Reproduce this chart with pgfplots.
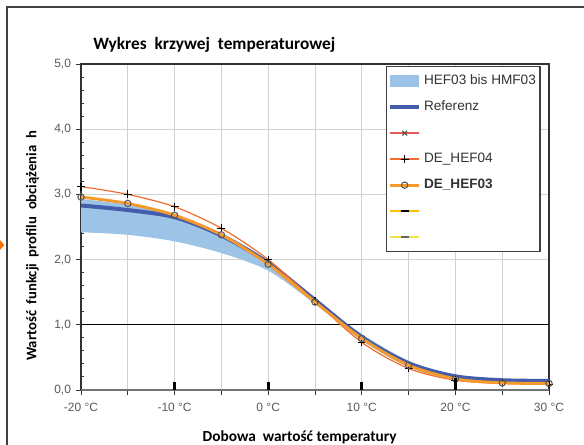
\documentclass[border=0pt]{standalone}
\usepackage{pgfplots}
\pgfplotsset{compat=1.18}
\usepgfplotslibrary{fillbetween}
\usepackage{fontspec}
\setmainfont{Liberation Sans}
\newfontfamily\calibri{Carlito}

\definecolor{bandblue}{RGB}{157,195,230}
\definecolor{refblue}{RGB}{68,92,172}
\definecolor{hefthree}{RGB}{245,155,45}
\definecolor{heffour}{RGB}{240,110,50}
\definecolor{redx}{RGB}{230,90,90}
\definecolor{yellowa}{RGB}{255,192,0}
\definecolor{yellowb}{RGB}{240,228,70}

\newcommand{\lt}[1]{\makebox[84pt][l]{#1}}

\begin{document}
\begin{tikzpicture}
% 1 px of the reference = 0.75pt; axis box lower left at origin
\begin{axis}[
    at={(0,0)}, anchor=south west,
    scale only axis,
    width=351pt, height=244.5pt,
    xmin=-20, xmax=30, ymin=0, ymax=5,
    xtick={-20,-15,...,30},
    xticklabels={-20 °C,,-10 °C,,0 °C,,10 °C,,20 °C,,30 °C},
    ytick={0,1,...,5},
    minor y tick num=4,
    tick pos=left,
    yticklabel={\pgfmathprintnumber[fixed,fixed zerofill,precision=1,use comma]{\tick}},
    /pgf/number format/assume math mode=true,
    tick align=outside,
    major tick length=4pt,
    minor tick length=2.5pt,
    minor tick style={xshift=2.5pt},
    xmajorgrids, ymajorgrids,
    grid style={black!18, line width=0.6pt},
    axis line style={black!80, line width=0.8pt},
    tick style={black!80, line width=0.7pt},
    ticklabel style={font=\fontsize{9}{10}\selectfont, text=black!65},
    xticklabel style={yshift=-2pt},
    clip mode=individual,
    legend cell align=left,
    legend style={at={(0.652,0.994)}, anchor=north west,
        draw=black!75, line width=0.8pt,
        font=\fontsize{10.2}{12}\selectfont, text=black!80,
        inner xsep=1pt, inner ysep=4pt, row sep=5.5pt,
        nodes={text height=7.5pt, text depth=2.5pt}},
    legend image code/.code={\draw[mark repeat=2,mark phase=2,#1]
        plot coordinates {(0pt,0pt)(11pt,0pt)(22pt,0pt)};},
]

% band HEF03 bis HMF03
\addplot[name path=up, draw=none, smooth, forget plot] coordinates {
    (-20,2.93) (-15,2.84) (-10,2.68) (-5,2.40) (0,1.97) (5,1.40)
    (10,0.86) (15,0.45) (20,0.22) (25,0.16) (30,0.15)
};
\addplot[name path=lo, draw=none, smooth, forget plot] coordinates {
    (-20,2.42) (-15,2.38) (-10,2.28) (-5,2.10) (0,1.83) (5,1.32)
    (10,0.76) (15,0.35) (20,0.15) (25,0.12) (30,0.12)
};
\addplot[fill=bandblue, draw=none,
    legend image code/.code={\fill[bandblue] (0pt,-4.5pt) rectangle (22pt,4.5pt);}]
    fill between[of=up and lo];
\addlegendentry{\lt{HEF03 bis HMF03}}

% reference lines
\draw[black, line width=0.9pt] (axis cs:-20,1) -- (axis cs:30,1);
\draw[black!55, line width=1.5pt] (axis cs:-20,0) -- (axis cs:30,0);

% Referenz
\addplot[draw=refblue, line width=3pt, smooth] coordinates {
    (-20,2.83) (-15,2.76) (-10,2.65) (-5,2.37) (0,1.95) (5,1.38)
    (10,0.81) (15,0.41) (20,0.21) (25,0.15) (30,0.14)
};
\addlegendentry{\lt{Referenz}}

\addlegendimage{draw=redx, line width=1.2pt, mark=x, mark size=2.5pt,
    mark options={draw=black!70, line width=0.8pt}}
\addlegendentry{\lt{}}

% DE_HEF04
\addplot[draw=heffour, line width=0.9pt, smooth, mark=+, mark size=3pt,
    mark options={draw=black, line width=0.8pt},
    legend image code/.code={
        \draw[heffour, line width=1.2pt] (0pt,0pt) -- (22pt,0pt);
        \draw[black, line width=0.8pt] (8pt,0pt) -- (14pt,0pt) (11pt,-3pt) -- (11pt,3pt);}]
    coordinates {
    (-20,3.12) (-15,3.00) (-10,2.81) (-5,2.48) (0,2.00) (5,1.36)
    (10,0.73) (15,0.33) (20,0.15) (25,0.10) (30,0.09)
};
\addlegendentry{\lt{DE\_HEF04}}

% DE_HEF03
\addplot[draw=hefthree, line width=2.2pt, smooth, mark=o, mark size=2.4pt,
    mark options={draw=black!65, line width=0.8pt}] coordinates {
    (-20,2.96) (-15,2.86) (-10,2.68) (-5,2.38) (0,1.93) (5,1.35)
    (10,0.79) (15,0.38) (20,0.17) (25,0.11) (30,0.10)
};
\addlegendentry{\lt{\textbf{DE\_HEF03}}}

\addlegendimage{draw=yellowa, line width=1.2pt, mark=-, mark size=3pt,
    mark options={draw=black, line width=1.3pt}}
\addlegendentry{\lt{}}
\addlegendimage{draw=yellowb, line width=1.2pt, mark=-, mark size=3pt,
    mark options={draw=black!60, line width=1.3pt}}
\addlegendentry{\lt{}}

% short black bars on the zero line
\addplot[ycomb, draw=black, line width=2.2pt, forget plot] coordinates {
    (-10,0.13) (0,0.13) (10,0.13) (20,0.18)
};

\end{axis}

\node[anchor=west, inner sep=0pt, font=\calibri\bfseries\fontsize{13}{15}\selectfont] at (9pt,258.75pt)
    {Wykres\ \ krzywej\ \ temperaturowej};
\node[font=\calibri\bfseries\fontsize{11.5}{13}\selectfont] at (164pt,-35.25pt)
    {Dobowa\ \ wartość temperatury};
\node[rotate=90, font=\calibri\bfseries\fontsize{11}{13}\selectfont] at (-36.5pt,108pt)
    {Wartość\ \ funkcji\ \ profilu\ \ obciążenia\ \ h};
\fill[orange!90!red] (-60.75pt,105pt) -- (-57.5pt,108.75pt) -- (-60.75pt,112.5pt) -- cycle;
\draw[black!75, line width=1.1pt, overlay] (-55.5pt,-45pt) -- (-55.5pt,287.25pt) -- (380pt,287.25pt);
\pgfresetboundingbox
\path[use as bounding box] (-60.75pt,-41.25pt) rectangle (377.25pt,292.5pt);
\end{tikzpicture}
\end{document}
